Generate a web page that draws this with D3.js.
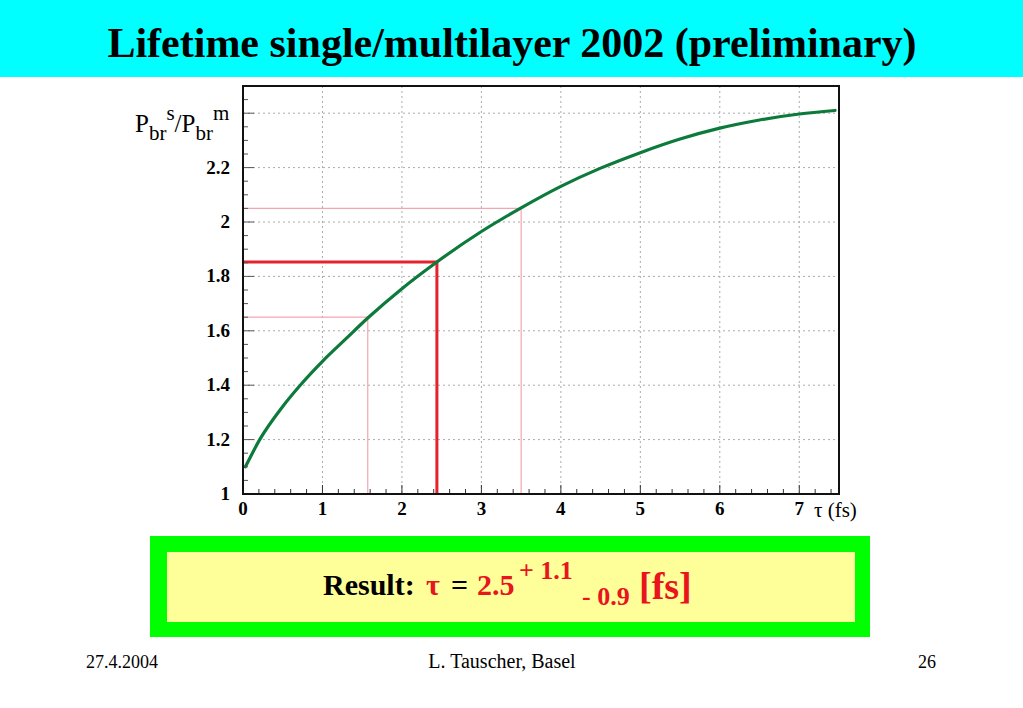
<!DOCTYPE html>
<html><head><meta charset="utf-8">
<script src="https://cdn.jsdelivr.net/npm/d3@7/dist/d3.min.js"></script>
<style>
html,body{margin:0;padding:0;background:#fff;}
svg{display:block;}
text{font-family:"Liberation Serif","Times New Roman",serif;}
</style></head>
<body>
<svg id="c" width="1023" height="708"></svg>
<script>
// ---- data ----
const titleText = "Lifetime single/multilayer 2002 (preliminary)";
const tauValues   = [0.03, 0.21, 0.5, 0.72, 1.0, 1.3, 1.57, 2.0, 2.44, 3.0, 3.5, 4.0, 4.5, 5.0, 5.5, 6.0, 6.5, 7.0, 7.45];
const ratioValues = [1.10, 1.20, 1.322, 1.40, 1.488, 1.572, 1.647, 1.755, 1.853, 1.965, 2.052, 2.131, 2.198, 2.255, 2.305, 2.345, 2.375, 2.397, 2.41];
const xTickValues = [0, 1, 2, 3, 4, 5, 6, 7];
const yTickValues = [1, 1.2, 1.4, 1.6, 1.8, 2, 2.2, 2.4];
const yTickLabels = ["1", "1.2", "1.4", "1.6", "1.8", "2", "2.2", ""];
const centralTau = 2.44, centralRatio = 1.853;
const boundTaus = [1.57, 3.5];
const boundRatios = [1.65, 2.05];
const footerTexts = ["27.4.2004", "L. Tauscher, Basel", "26"];

const svg = d3.select("#c");
// title band
svg.append("rect").attr("x",0).attr("y",0).attr("width",1023).attr("height",77).attr("fill","#00ffff");
svg.append("text").attr("x",512).attr("y",57).attr("text-anchor","middle")
  .attr("font-size",42).attr("font-weight","bold").attr("fill","#000").text(titleText);

// plot
const L=243, R=839, T=86, B=494;
const x = d3.scaleLinear().domain([0,7.5]).range([L,R]);
const y = d3.scaleLinear().domain([1,2.5]).range([B,T]);

const g = svg.append("g");
// grid
g.selectAll(".gx").data(xTickValues.filter(v=>v>0)).join("line")
  .attr("x1",d=>x(d)).attr("x2",d=>x(d)).attr("y1",T).attr("y2",B)
  .attr("stroke","#aaa").attr("stroke-width",1).attr("stroke-dasharray","2,3");
g.selectAll(".gy").data(yTickValues.filter(v=>v>1)).join("line")
  .attr("y1",d=>y(d)).attr("y2",d=>y(d)).attr("x1",L).attr("x2",R)
  .attr("stroke","#aaa").attr("stroke-width",1).attr("stroke-dasharray","2,3");

// bound (pink) lines
boundTaus.forEach((t,i)=>{
  const r = boundRatios[i];
  g.append("path").attr("d",`M${x(0)},${y(r)}H${x(t)}V${y(1)}`)
    .attr("fill","none").attr("stroke","#f4a6b0").attr("stroke-width",1.2);
});
// central red lines
g.append("path").attr("d",`M${x(0)},${y(centralRatio)}H${x(centralTau)}V${y(1)}`)
  .attr("fill","none").attr("stroke","#e3222c").attr("stroke-width",3);

// curve
const line = d3.line().x(d=>x(d[0])).y(d=>y(d[1])).curve(d3.curveMonotoneX);
g.append("path").datum(tauValues.map((t,i)=>[t,ratioValues[i]]))
  .attr("d",line).attr("fill","none").attr("stroke","#0c7a3a").attr("stroke-width",3.2)
  .attr("stroke-linecap","round");

// axes ticks (inside)
const xMinor = d3.range(0,7.5001,0.2);
g.selectAll(".xt").data(xMinor).join("line")
  .attr("x1",d=>x(d)).attr("x2",d=>x(d)).attr("y1",B)
  .attr("y2",d=>Math.abs(d-Math.round(d))<1e-6? B-9 : B-5)
  .attr("stroke","#333").attr("stroke-width",1);
const yMinor = d3.range(1,2.5001,0.05);
g.selectAll(".yt").data(yMinor).join("line")
  .attr("y1",d=>y(d)).attr("y2",d=>y(d)).attr("x1",L)
  .attr("x2",d=>Math.abs(d*5-Math.round(d*5))<1e-6? L+11 : L+5)
  .attr("stroke","#555").attr("stroke-width",1);

// frame
g.append("rect").attr("x",L).attr("y",T).attr("width",R-L).attr("height",B-T)
  .attr("fill","none").attr("stroke","#111").attr("stroke-width",2);

// tick labels
g.selectAll(".xl").data(xTickValues).join("text")
  .attr("x",d=>x(d)).attr("y",B+21).attr("text-anchor","middle")
  .attr("font-size",19).attr("font-weight","bold").text(d=>d);
g.selectAll(".yl").data(yTickValues).join("text")
  .attr("x",L-13).attr("y",d=>y(d)+6).attr("text-anchor","end")
  .attr("font-size",19).attr("font-weight","bold").text((d,i)=>yTickLabels[i]);

// axis titles
const yt = g.append("text").attr("x",135).attr("y",132).attr("font-size",25);
yt.append("tspan").text("P");
yt.append("tspan").attr("font-size",21).attr("dy",8).text("br");
yt.append("tspan").attr("font-size",21).attr("dy",-20).text("s");
yt.append("tspan").attr("dy",12).text("/P");
yt.append("tspan").attr("font-size",21).attr("dy",8).text("br");
yt.append("tspan").attr("font-size",21).attr("dy",-20).text("m");

g.append("text").attr("x",814).attr("y",517).attr("font-size",21).text("τ (fs)");

// result box
svg.append("rect").attr("x",150).attr("y",536).attr("width",720).attr("height",101).attr("fill","#00ff00");
svg.append("rect").attr("x",167).attr("y",552).attr("width",688).attr("height",70).attr("fill","#ffff99");
const red = "#e8141e";
const parts = [
  {t:"Result:", x:323, y:595, s:30, c:"#000"},
  {t:"τ", x:426, y:595, s:30, c:red},
  {t:"=", x:451, y:595, s:30, c:"#000"},
  {t:"2.5", x:477, y:595, s:30, c:red},
  {t:"+ 1.1", x:519, y:579, s:26, c:red},
  {t:"- 0.9", x:582, y:605, s:26, c:red},
  {t:"[fs]", x:639, y:599, s:38, c:red}
];
svg.selectAll(".res").data(parts).join("text")
  .attr("x",d=>d.x).attr("y",d=>d.y).attr("font-size",d=>d.s)
  .attr("font-weight","bold").attr("fill",d=>d.c).text(d=>d.t);

// footer
svg.append("text").attr("x",86).attr("y",668).attr("font-size",18).text(footerTexts[0]);
svg.append("text").attr("x",502).attr("y",668).attr("font-size",20).attr("text-anchor","middle").text(footerTexts[1]);
svg.append("text").attr("x",918).attr("y",668).attr("font-size",18).text(footerTexts[2]);
</script>
</body></html>
